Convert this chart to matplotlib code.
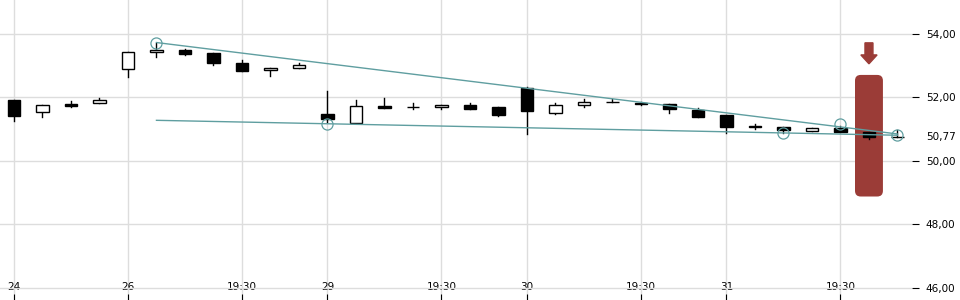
import matplotlib
matplotlib.use("Agg")
from matplotlib import pyplot as plt
from matplotlib.patches import Rectangle, FancyBboxPatch
from matplotlib.transforms import blended_transform_factory

opens = [51.92, 51.53, 51.79, 51.82, 52.89, 53.42, 53.50, 53.40, 53.09, 52.86, 52.92,
         51.49, 51.21, 51.73, 51.70, 51.69, 51.76, 51.70, 52.30, 51.52, 51.75, 51.85,
         51.83, 51.80, 51.61, 51.45, 51.10, 51.07, 50.94, 51.04, 50.91, 50.75]
highs = [51.92, 51.75, 51.88, 51.97, 53.42, 53.73, 53.53, 53.40, 53.18, 52.93, 53.09,
         52.20, 51.92, 51.98, 51.82, 51.76, 51.83, 51.70, 52.34, 51.83, 51.95, 51.96,
         51.86, 51.80, 51.67, 51.45, 51.17, 51.07, 51.03, 51.11, 50.91, 50.98]
lows = [51.27, 51.40, 51.71, 51.82, 52.66, 53.29, 53.35, 53.03, 52.84, 52.69, 52.92,
        51.22, 51.21, 51.68, 51.65, 51.65, 51.65, 51.43, 50.86, 51.48, 51.71, 51.85,
        51.76, 51.51, 51.40, 50.87, 51.02, 50.89, 50.94, 50.90, 50.68, 50.75]
closes = [51.43, 51.75, 51.74, 51.91, 53.42, 53.49, 53.38, 53.10, 52.84, 52.93, 53.01,
          51.33, 51.73, 51.68, 51.69, 51.76, 51.65, 51.46, 51.58, 51.76, 51.85, 51.86,
          51.78, 51.63, 51.40, 51.06, 51.06, 50.97, 51.03, 50.90, 50.75, 50.77]

tick_pos = [0, 4, 8, 11, 15, 18, 22, 25, 29]
tick_labels = ["24", "26", "19:30", "29", "19:30", "30", "19:30", "31", "19:30"]
y_ticks = [46, 48, 50, 52, 54]
y_labels = ["46,00", "48,00", "50,00", "52,00", "54,00"]
last_price = 50.77

# trend lines (x index, price)
upper_line = ([5, 31], [53.73, 50.85])
lower_line = ([5, 31], [51.28, 50.81])
pivot_x = [5, 11, 27, 29, 31]
pivot_y = [53.73, 51.17, 50.87, 51.16, 50.81]

signal_idx = 30
teal = "#5f9ea0"
red = "#9b3c37"

fig = plt.figure(figsize=(9.6, 3.0), dpi=100)
ax = fig.add_axes([0, 0, 912 / 960, 1])
ax.set_xlim(-0.49, 31.51)
ax.set_ylim(45.62, 55.07)

for s in ax.spines.values():
    s.set_visible(False)
ax.grid(True, color="#dddddd", linewidth=1)
ax.set_axisbelow(True)

ax.set_xticks(tick_pos)
ax.set_xticklabels(tick_labels)
ax.tick_params(axis="x", direction="in", length=4, pad=-13, labelsize=7.5, color="black")

ax.yaxis.tick_right()
ax.set_yticks(y_ticks)
ax.set_yticklabels(y_labels)
ax.tick_params(axis="y", direction="out", length=5, pad=5, labelsize=7.5, color="black")

tr = blended_transform_factory(ax.transAxes, ax.transData)
ax.annotate("50,77", xy=(1.0, last_price), xycoords=tr, xytext=(10, 0),
            textcoords="offset points", fontsize=7.5, va="center", ha="left",
            annotation_clip=False)

# signal highlight
box = FancyBboxPatch((signal_idx - 0.49, 48.88), 0.98, 3.83,
                     boxstyle="round,pad=0,rounding_size=0.2", mutation_aspect=0.9,
                     facecolor=red, edgecolor="none", zorder=2)
ax.add_patch(box)
ax.arrow(signal_idx, 53.72, 0, -0.66, width=0.28, head_width=0.57, head_length=0.28,
         length_includes_head=True, color=red, zorder=2)

# candles
bw = 0.44
for i, (o, h, l, c) in enumerate(zip(opens, highs, lows, closes)):
    ax.plot([i, i], [l, h], color="black", linewidth=1, zorder=3)
    up = c >= o
    bottom = min(o, c)
    height = max(abs(c - o), 0.015)
    ax.add_patch(Rectangle((i - bw / 2, bottom), bw, height,
                           facecolor="white" if up else "black",
                           edgecolor="black", linewidth=1, zorder=4))

ax.plot(*upper_line, color=teal, linewidth=1, zorder=5)
ax.plot(*lower_line, color=teal, linewidth=1, zorder=5)
ax.plot(pivot_x, pivot_y, linestyle="none", marker="o", markersize=8,
        markerfacecolor="none", markeredgecolor=teal, markeredgewidth=0.9, zorder=6)

fig.savefig("out.png", dpi=100)
